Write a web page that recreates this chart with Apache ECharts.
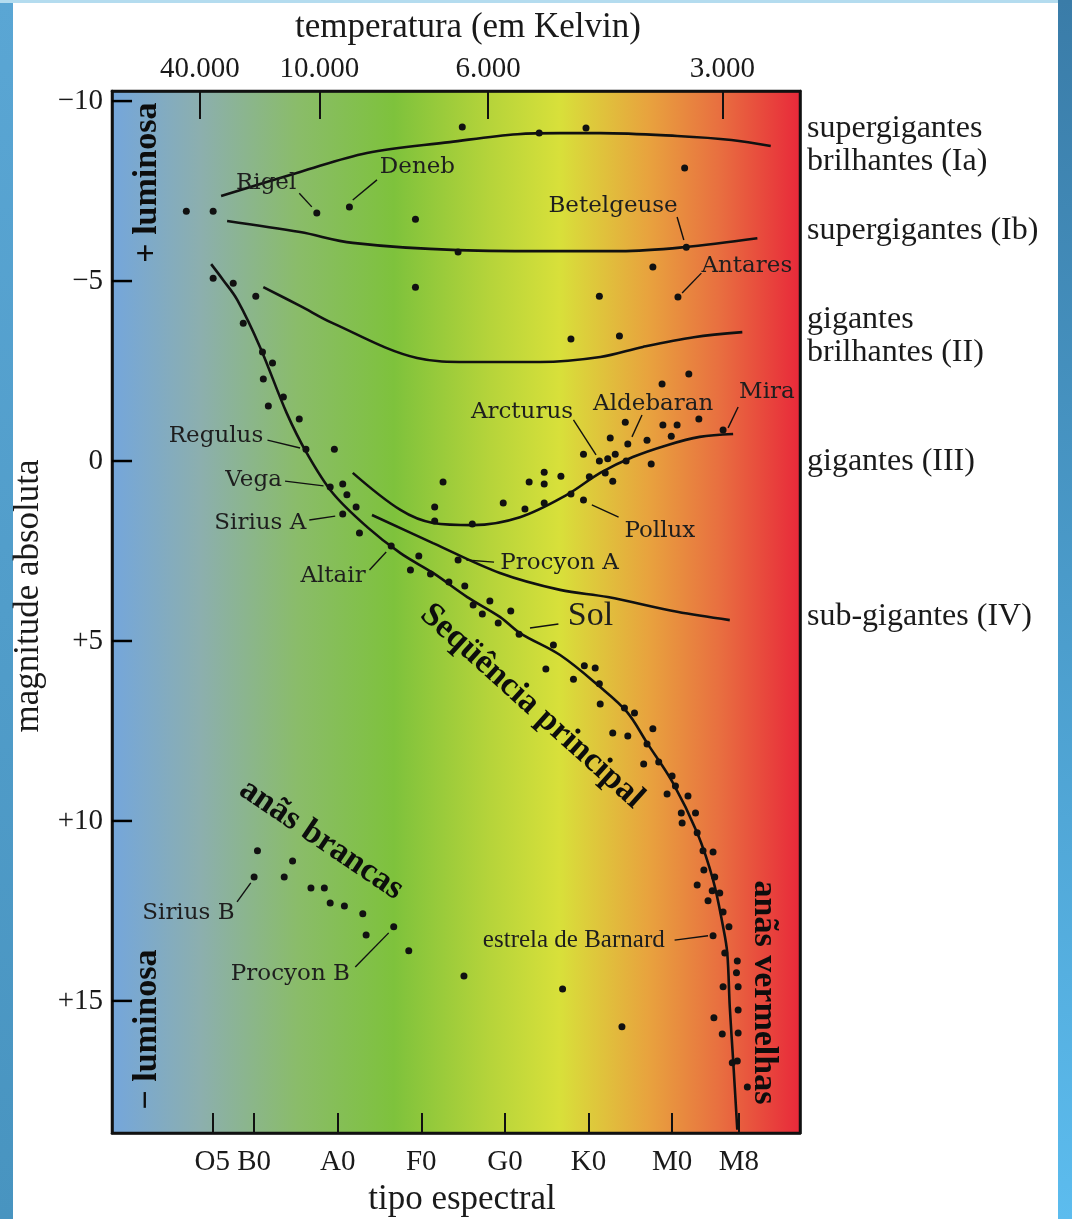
<!DOCTYPE html>
<html>
<head>
<meta charset="utf-8">
<title>Diagrama HR</title>
<script src="https://cdn.jsdelivr.net/npm/echarts@6/dist/echarts.min.js"></script>
<style>
html, body { margin: 0; padding: 0; background: #fff; }
#hr { width: 1072px; height: 1219px; }
</style>
</head>
<body>
<div id="hr"></div>
<script>
var chart = echarts.init(document.getElementById('hr'));

// x = spectral index (O0=0, B0=10, A0=20 ... M0=60), y = absolute magnitude
var spectralTicks = [5, 10, 20, 30, 40, 50, 60, 68];
var spectralLabels = ['O5', 'B0', 'A0', 'F0', 'G0', 'K0', 'M0', 'M8'];
var tempTicks = [3.5, 17.8, 38.0, 66.0];
var tempLabels = ['40.000', '10.000', '6.000', '3.000'];
var magTicks = [-10, -5, 0, 5, 10, 15];
var magLabels = ['\u221210', '\u22125', '0', '+5', '+10', '+15'];
var classPos = [-8.78, -6.39, -3.47, 0.03, 4.33];
var classLabels = ['supergigantes\nbrilhantes (Ia)', 'supergigantes (Ib)', 'gigantes\nbrilhantes (II)', 'gigantes (III)', 'sub-gigantes (IV)'];

var xMin = -7, xMax = 75.3, yMin = -10.28, yMax = 18.67;

// luminosity class curves
var curveIa = [[6.05, -7.36], [15.5, -8.03], [23.5, -8.56], [33.4, -8.86], [41.5, -9.08], [46.6, -9.11], [51.4, -9.11], [60.6, -9.03], [67.1, -8.92], [71.8, -8.75]];
var curveIb = [[6.77, -6.67], [15.5, -6.36], [21.8, -6.06], [34.4, -5.86], [46.6, -5.83], [53.8, -5.83], [61.4, -5.94], [70.2, -6.19]];
var curveII = [[11.1, -4.83], [15.5, -4.31], [19.4, -3.83], [29.5, -2.86], [35.5, -2.75], [44.2, -2.75], [51.4, -2.89], [56.5, -3.17], [62.6, -3.44], [68.4, -3.58]];
var curveIII = [[21.8, 0.33], [27.5, 1.36], [31.4, 1.72], [36.2, 1.78], [41.8, 1.56], [47.4, 0.94], [51.4, 0.33], [55.3, -0.11], [59.4, -0.44], [63.3, -0.67], [67.3, -0.75]];
var curveIV = [[24.1, 1.5], [31.4, 2.28], [39.4, 3.11], [46.6, 3.58], [52.3, 3.78], [60.6, 4.19], [66.9, 4.42]];
var curveMS = [[4.86, -5.47], [6.29, -5.03], [8.0, -4.47], [10.7, -3.17], [13.9, -1.33], [16.3, -0.22], [19.4, 0.89], [23.5, 1.83], [27.5, 2.56], [31.4, 3.11], [35.5, 3.78], [39.4, 4.33], [41.8, 4.78], [46.6, 5.39], [51.4, 6.28], [54.6, 6.97], [57.0, 7.83], [60.1, 8.94], [63.0, 10.33], [64.9, 11.64], [66.1, 12.94], [66.6, 13.67], [66.9, 15.17], [67.3, 16.64], [67.8, 18.58]];

// stars
var starsSupergiants = [[1.89, -6.94], [5.1, -6.94], [17.5, -6.89], [21.4, -7.06], [29.3, -6.72], [34.9, -9.28], [34.4, -5.81], [44.1, -9.11], [49.7, -9.25], [61.5, -8.14], [61.7, -5.94], [29.3, -4.83], [57.7, -5.39], [60.7, -4.56], [51.3, -4.58], [47.9, -3.39], [53.7, -3.47]];
var starsMainSeq = [[5.1, -5.08], [7.5, -4.94], [10.2, -4.58], [8.7, -3.83], [11.0, -3.03], [12.2, -2.72], [11.1, -2.28], [13.5, -1.78], [11.7, -1.53], [15.4, -1.17], [16.2, -0.33], [19.6, -0.33], [20.6, 0.64], [19.1, 0.72], [21.1, 0.94], [22.2, 1.28], [20.6, 1.47], [22.6, 2.0], [26.4, 2.36], [29.7, 2.64], [28.7, 3.03], [31.1, 3.14], [34.4, 2.75], [33.3, 3.36], [35.2, 3.47], [36.2, 4.0], [38.2, 3.89], [37.3, 4.25], [39.2, 4.5], [40.7, 4.17], [41.7, 4.81], [45.8, 5.11], [44.9, 5.78], [48.2, 6.06], [49.5, 5.69], [50.8, 5.75], [51.3, 6.19], [51.4, 6.75], [54.3, 6.86], [55.5, 7.0], [57.7, 7.44], [52.9, 7.56], [54.7, 7.64], [57.0, 7.86], [56.6, 8.42], [58.4, 8.36], [60.0, 8.75], [60.4, 9.03], [59.4, 9.25], [61.9, 9.31], [61.1, 9.78], [62.8, 9.78], [61.2, 10.06], [63.0, 10.33], [63.7, 10.83], [64.9, 10.86], [63.8, 11.36], [65.1, 11.56], [63.0, 11.78], [64.8, 11.94], [65.7, 12.0], [64.3, 12.22], [66.1, 12.53], [66.8, 12.94], [64.9, 13.19], [66.3, 13.67], [67.8, 13.89], [67.7, 14.22], [66.1, 14.61], [67.9, 14.61], [67.9, 15.25], [65.0, 15.47], [66.0, 15.92], [67.9, 15.89], [67.2, 16.72], [67.8, 16.67], [69.0, 17.39]];
var starsGiants = [[32.6, 0.58], [31.6, 1.28], [31.6, 1.67], [36.1, 1.75], [39.8, 1.17], [42.4, 1.33], [44.7, 1.17], [42.9, 0.58], [44.7, 0.31], [44.7, 0.64], [46.7, 0.42], [47.9, 0.92], [49.4, 1.08], [49.4, -0.19], [50.1, 0.44], [51.3, 0.0], [52.3, -0.06], [53.2, -0.19], [52.6, -0.64], [52.0, 0.33], [52.9, 0.56], [54.4, -1.08], [54.7, -0.47], [54.5, 0.0], [57.0, -0.58], [57.5, 0.08], [58.8, -2.14], [62.0, -2.42], [58.9, -1.0], [60.6, -1.0], [59.9, -0.69], [63.2, -1.17], [66.1, -0.86]];
var starsWhiteDwarfs = [[10.4, 10.83], [10.0, 11.56], [14.6, 11.11], [13.6, 11.56], [16.8, 11.86], [18.4, 11.86], [19.1, 12.28], [20.8, 12.36], [23.0, 12.58], [23.4, 13.17], [26.7, 12.94], [28.5, 13.61]];
var starsOther = [[35.1, 14.31], [46.9, 14.67], [54.0, 15.72]];

// named stars: label centre and leader line
var labelNames = ['Rigel', 'Deneb', 'Betelgeuse', 'Antares', 'Regulus', 'Vega', 'Sirius A', 'Altair', 'Procyon A', 'Sol', 'Arcturus', 'Aldebaran', 'Mira', 'Pollux', 'Sirius B', 'Procyon B', 'estrela de Barnard'];
var labelPos = [[11.5, -7.72], [29.6, -8.14], [53.0, -7.06], [69.0, -5.39], [5.5, -0.67], [10.0, 0.53], [10.8, 1.75], [19.5, 3.22], [46.6, 2.86], [50.3, 4.33], [42.1, -1.36], [57.8, -1.56], [71.4, -1.89], [58.6, 1.97], [2.2, 12.58], [14.4, 14.28], [48.3, 13.33]];
var leaderFrom = [[15.4, -7.44], [24.7, -7.81], [60.6, -6.78], [63.5, -5.22], [11.6, -0.58], [13.7, 0.56], [16.6, 1.64], [23.8, 3.03], [35.4, 2.75], [43.0, 4.64], [48.2, -1.14], [56.4, -1.28], [67.9, -1.5], [50.4, 1.22], [7.96, 12.25], [22.1, 14.06], [60.3, 13.31]];
var leaderTo = [[16.9, -7.06], [21.8, -7.25], [61.4, -6.14], [61.2, -4.67], [15.5, -0.36], [18.3, 0.69], [19.7, 1.53], [25.8, 2.53], [38.7, 2.81], [46.4, 4.53], [50.9, -0.17], [55.2, -0.67], [66.7, -0.92], [53.6, 1.56], [9.6, 11.72], [26.1, 13.11], [64.3, 13.19]];

// region captions
var regionNames = ['Seq\u00fc\u00eancia principal', 'an\u00e3s brancas', 'an\u00e3s vermelhas', '+ luminosa', '\u2212 luminosa'];
var regionPos = [[43.3, 6.83], [18.1, 10.53], [71.0, 14.78], [-2.7, -7.72], [-2.7, 15.81]];
var regionAngle = [-42, -34, -90, 90, 90];

var serif = 'Liberation Serif';
var ink = '#1a1a1a';
var frame = { show: true, onZero: false, lineStyle: { color: '#111', width: 2.5 } };
var magTickMid = xMin + 1.2; // centre of the inner magnitude ticks, in spectral units

function pick(ticks, labels) {
    return function (v) {
        var i = ticks.indexOf(v);
        return i < 0 ? '' : labels[i];
    };
}

var labelStyles = {
    'Sol': { fontFamily: serif, fontSize: 34 },
    'estrela de Barnard': { fontFamily: serif, fontSize: 25 }
};

function curve(data) {
    return {
        type: 'line',
        data: data,
        smooth: 0.35,
        symbol: 'none',
        silent: true,
        lineStyle: { color: '#111', width: 2.6 },
        z: 3
    };
}

var allStars = [].concat(starsSupergiants, starsMainSeq, starsGiants, starsWhiteDwarfs, starsOther);

var option = {
    animation: false,
    backgroundColor: '#fff',
    textStyle: { fontFamily: serif },
    graphic: [
        { type: 'rect', left: 0, top: 0, shape: { width: 13, height: 1219 },
          style: { fill: new echarts.graphic.LinearGradient(0, 0, 0, 1, [{ offset: 0, color: '#5aa6d4' }, { offset: 1, color: '#4894c0' }]) } },
        { type: 'rect', left: 1058, top: 0, shape: { width: 14, height: 1219 },
          style: { fill: new echarts.graphic.LinearGradient(0, 0, 0, 1, [{ offset: 0, color: '#3a7ca8' }, { offset: 1, color: '#5cbcee' }]) } },
        { type: 'rect', left: 0, top: 0, shape: { width: 1058, height: 3 }, style: { fill: '#b4dcef' } }
    ],
    grid: {
        left: 112, right: 272, top: 91, bottom: 86,
        outerBoundsMode: 'none',
        containLabel: false,
        show: true,
        borderColor: '#111',
        borderWidth: 2.5,
        backgroundColor: new echarts.graphic.LinearGradient(0, 0, 1, 0, [
            { offset: 0, color: '#74a6dc' },
            { offset: 0.13, color: '#8cafae' },
            { offset: 0.27, color: '#8abc6a' },
            { offset: 0.41, color: '#7ec23c' },
            { offset: 0.55, color: '#b6d43a' },
            { offset: 0.65, color: '#d8e03a' },
            { offset: 0.78, color: '#e8a23e' },
            { offset: 0.88, color: '#e87040' },
            { offset: 1, color: '#e8283a' }
        ])
    },
    xAxis: [{
        type: 'value', position: 'bottom', min: xMin, max: xMax,
        name: 'tipo espectral', nameLocation: 'middle', nameGap: 48,
        nameTextStyle: { fontFamily: serif, fontSize: 35, color: ink, padding: [0, 0, 0, 12] },
        axisLine: frame,
        splitLine: { show: false },
        axisTick: { show: true, inside: true, length: 20, customValues: spectralTicks, lineStyle: { color: '#111', width: 2 } },
        axisLabel: { customValues: spectralTicks, formatter: pick(spectralTicks, spectralLabels), fontFamily: serif, fontSize: 29, color: ink, margin: 15 }
    }, {
        type: 'value', position: 'top', min: xMin, max: xMax,
        name: 'temperatura (em Kelvin)', nameLocation: 'middle', nameGap: 46,
        nameTextStyle: { fontFamily: serif, fontSize: 35, color: ink, padding: [0, 0, 0, 24] },
        axisLine: frame,
        splitLine: { show: false },
        axisTick: { show: true, inside: true, length: 28, customValues: tempTicks, lineStyle: { color: '#111', width: 2 } },
        axisLabel: { customValues: tempTicks, formatter: pick(tempTicks, tempLabels), fontFamily: serif, fontSize: 29, color: ink, margin: 7 }
    }],
    yAxis: [{
        type: 'value', position: 'left', inverse: true, min: yMin, max: yMax,
        name: 'magnitude absoluta', nameLocation: 'middle', nameGap: 60,
        nameTextStyle: { fontFamily: serif, fontSize: 35, color: ink, padding: [0, 0, 0, 32] },
        axisLine: frame,
        splitLine: { show: false },
        axisTick: { show: true, inside: true, length: 20, customValues: magTicks, lineStyle: { color: '#111', width: 2 } },
        axisLabel: { customValues: magTicks, formatter: pick(magTicks, magLabels), fontFamily: serif, fontSize: 29, color: ink, margin: 9 }
    }, {
        type: 'value', position: 'right', inverse: true, min: yMin, max: yMax,
        axisLine: frame,
        splitLine: { show: false },
        axisTick: { show: false },
        axisLabel: { customValues: classPos, formatter: pick(classPos, classLabels), fontFamily: serif, fontSize: 32, lineHeight: 33, color: ink, margin: 7, align: 'left' }
    }],
    series: [
        curve(curveIa), curve(curveIb), curve(curveII), curve(curveIII), curve(curveIV), curve(curveMS),
        {
            // inner tick marks of the magnitude axis
            type: 'scatter',
            silent: true,
            data: magTicks.map(function (m) { return [magTickMid, m]; }),
            symbol: 'rect',
            symbolSize: [20, 2.5],
            itemStyle: { color: '#000', opacity: 1 },
            z: 8
        },
        {
            type: 'lines',
            coordinateSystem: 'cartesian2d',
            silent: true,
            data: leaderFrom.map(function (p, i) { return { coords: [p, leaderTo[i]] }; }),
            lineStyle: { color: '#111', width: 1.4, opacity: 1, curveness: 0 },
            z: 4
        },
        {
            type: 'scatter',
            data: allStars,
            symbolSize: 7,
            itemStyle: { color: '#111', opacity: 1 },
            z: 5
        },
        {
            type: 'scatter',
            silent: true,
            symbolSize: 1,
            itemStyle: { color: 'rgba(0,0,0,0)', opacity: 1 },
            data: labelNames.map(function (n, i) {
                var d = { name: n, value: labelPos[i] };
                if (labelStyles[n]) d.label = labelStyles[n];
                return d;
            }),
            label: {
                show: true, position: [0, 0], align: 'center', verticalAlign: 'middle', formatter: '{b}',
                fontFamily: 'DejaVu Serif', fontSize: 23, color: '#1e1e1e', opacity: 1
            },
            z: 6
        },
        {
            type: 'scatter',
            silent: true,
            symbolSize: 1,
            itemStyle: { color: 'rgba(0,0,0,0)', opacity: 1 },
            data: regionNames.map(function (n, i) {
                return { name: n, value: regionPos[i], label: { rotate: regionAngle[i] } };
            }),
            label: {
                show: true, position: [0, 0], align: 'center', verticalAlign: 'middle', formatter: '{b}',
                fontFamily: serif, fontWeight: 'bold', fontSize: 34, color: '#0d0d0d', opacity: 1
            },
            z: 6
        }
    ]
};

chart.setOption(option);
</script>
</body>
</html>
